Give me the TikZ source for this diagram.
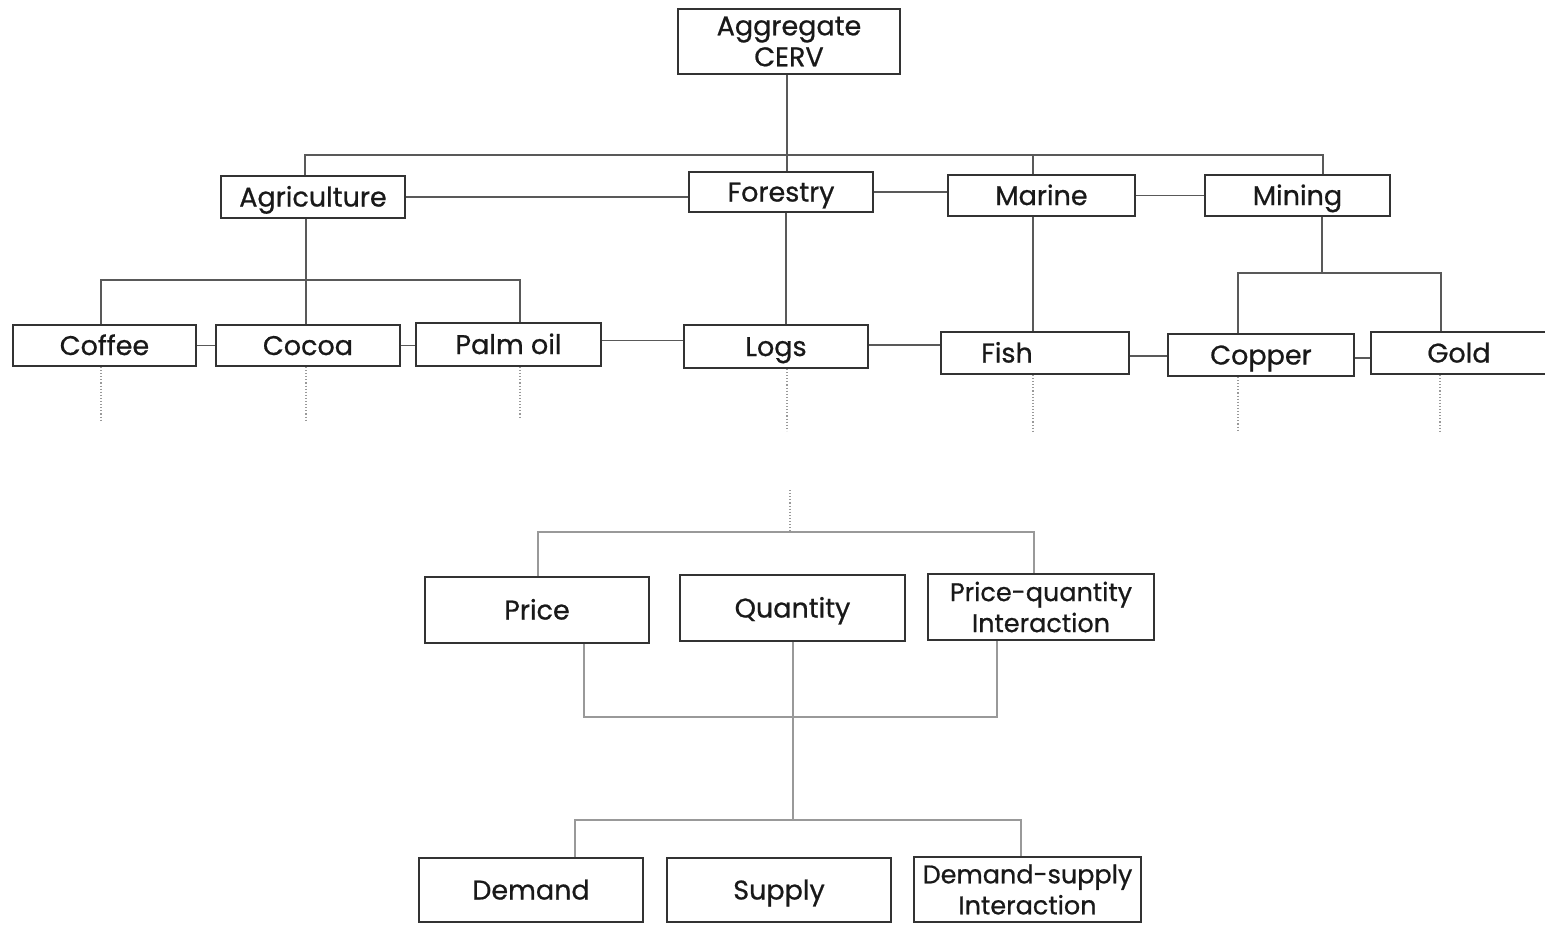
\documentclass[tikz,border=0pt]{standalone}
\usepackage{fontspec}
\setmainfont{Poppins}
\newfontfamily\boxfont{Poppins}[BoldFont={Poppins},BoldFeatures={FakeBold=0.7}]
\begin{document}
\begin{tikzpicture}[x=1pt,y=-1pt,
  box/.style={draw=black!80,line width=1.8pt,inner sep=0pt,text=black!90,font=\boxfont\bfseries\fontsize{27}{31}\selectfont,align=center},
  two/.style={font=\boxfont\bfseries\fontsize{25.5}{31}\selectfont},
  one/.style={text height=24pt,text depth=5pt},
  conn/.style={draw=black!65,line width=1.3pt},
  faint/.style={draw=black!40,line width=1.1pt},
  dots/.style={draw=black!40,line width=1.1pt,dotted}]
\useasboundingbox[fill=white] (0,0) rectangle (1545,924);
% nodes
\node[box,minimum width=222pt,minimum height=65pt] (agg) at (789,41.5) {Aggregate\\CERV};
\node[box,one,minimum width=184pt,minimum height=42pt] (agri) at (313,197) {Agriculture};
\node[box,one,minimum width=184pt,minimum height=40pt] (for) at (781,192) {Forestry};
\node[box,one,minimum width=187pt,minimum height=41pt] (mar) at (1041.5,195.5) {Marine};
\node[box,one,minimum width=185pt,minimum height=41pt] (min) at (1297.5,195.5) {Mining};
\node[box,one,minimum width=183pt,minimum height=41pt] (coffee) at (104.5,345.5) {Coffee};
\node[box,one,minimum width=184pt,minimum height=41pt] (cocoa) at (308,345.5) {Cocoa};
\node[box,one,minimum width=185pt,minimum height=43pt] (palm) at (508.5,344.5) {Palm oil};
\node[box,one,minimum width=184pt,minimum height=43pt] (logs) at (776,346.5) {Logs};
\node[box,one,minimum width=188pt,minimum height=42pt] (fish) at (1035,353) {\hspace*{-56pt}Fish};
\node[box,one,minimum width=186pt,minimum height=42pt] (copper) at (1261,355) {Copper};
\node[box,one,minimum width=176pt,minimum height=42pt] (gold) at (1459,353) {Gold};
\node[box,one,minimum width=224pt,minimum height=66pt] (price) at (537,610) {Price};
\node[box,one,minimum width=225pt,minimum height=66pt] (quant) at (792.5,608) {Quantity};
\node[box,two,minimum width=226pt,minimum height=66pt] (pqi) at (1041,607) {Price-quantity\\Interaction};
\node[box,one,minimum width=224pt,minimum height=64pt] (demand) at (531,890) {Demand};
\node[box,one,minimum width=224pt,minimum height=64pt] (supply) at (779,890) {Supply};
\node[box,two,minimum width=227pt,minimum height=65pt] (dsi) at (1027.5,889.5) {Demand-supply\\Interaction};
% bus coordinates
\coordinate (bus1) at (787,155);
\coordinate (bus2) at (306,280);
\coordinate (bus3) at (1322,273);
\coordinate (top4) at (790,490);
\coordinate (bus4) at (790,532);
\coordinate (bus5) at (793,717);
\coordinate (bus6) at (793,820);
% top level
\draw[conn] ([xshift=-2pt]agg.south) -- ([xshift=6pt]for.north);
\draw[conn] ([xshift=-8pt]agri.north) |- (bus1) -| ([xshift=25.5pt]min.north);
\draw[conn] ([xshift=-8.5pt]mar.north) |- (bus1);
\draw[conn] (agri.east) -- (agri.east -| for.west);
\draw[conn] (for.east) -- (for.east -| mar.west);
\draw[conn] (mar.east) -- (mar.east -| min.west);
% agriculture branch
\draw[conn] ([xshift=-7pt]agri.south) -- (bus2);
\draw[conn] ([xshift=-3.5pt]coffee.north) |- (bus2) -| ([xshift=11.5pt]palm.north);
\draw[conn] (bus2) -- ([xshift=-2pt]cocoa.north);
% forestry, marine
\draw[conn] ([xshift=5pt]for.south) -- ([xshift=5pt]for.south |- logs.north);
\draw[conn] ([xshift=-8.5pt]mar.south) -- ([xshift=-8.5pt]mar.south |- fish.north);
% mining branch
\draw[conn] ([xshift=24.5pt]min.south) -- (bus3);
\draw[conn] ([xshift=-23pt]copper.north) |- (bus3) -| ([xshift=-18pt]gold.north);
% leaf links
\draw[conn] (coffee.east) -- (coffee.east -| cocoa.west);
\draw[conn] (cocoa.east) -- (cocoa.east -| palm.west);
\draw[conn] ([yshift=4pt]palm.east) -- ([yshift=4pt]palm.east -| logs.west);
\draw[conn] ([yshift=1.5pt]logs.east) -- ([yshift=1.5pt]logs.east -| fish.west);
\draw[conn] ([yshift=-3pt]fish.east) -- ([yshift=-3pt]fish.east -| copper.west);
\draw[conn] ([yshift=-3pt]copper.east) -- ([yshift=-3pt]copper.east -| gold.west);
% dotted drops
\draw[dots] ([xshift=-3.5pt]coffee.south) -- ++(0,54);
\draw[dots] ([xshift=-2pt]cocoa.south) -- ++(0,54);
\draw[dots] ([xshift=11.5pt]palm.south) -- ++(0,52);
\draw[dots] ([xshift=11pt]logs.south) -- ++(0,62);
\draw[dots] ([xshift=-2pt]fish.south) -- ++(0,56);
\draw[dots] ([xshift=-23pt]copper.south) -- ++(0,54);
\draw[dots] ([xshift=-19pt]gold.south) -- ++(0,56);
% lower part
\draw[dots] (top4) -- (bus4);
\draw[faint] ([xshift=1pt]price.north) |- (bus4) -| ([xshift=-7pt]pqi.north);
\draw[faint] ([xshift=47pt]price.south) |- (bus5) -| ([xshift=-44pt]pqi.south);
\draw[faint] ([xshift=0.5pt]quant.south) -- (bus6);
\draw[faint] ([xshift=44pt]demand.north) |- (bus6) -| ([xshift=-6.5pt]dsi.north);
\end{tikzpicture}
\end{document}
